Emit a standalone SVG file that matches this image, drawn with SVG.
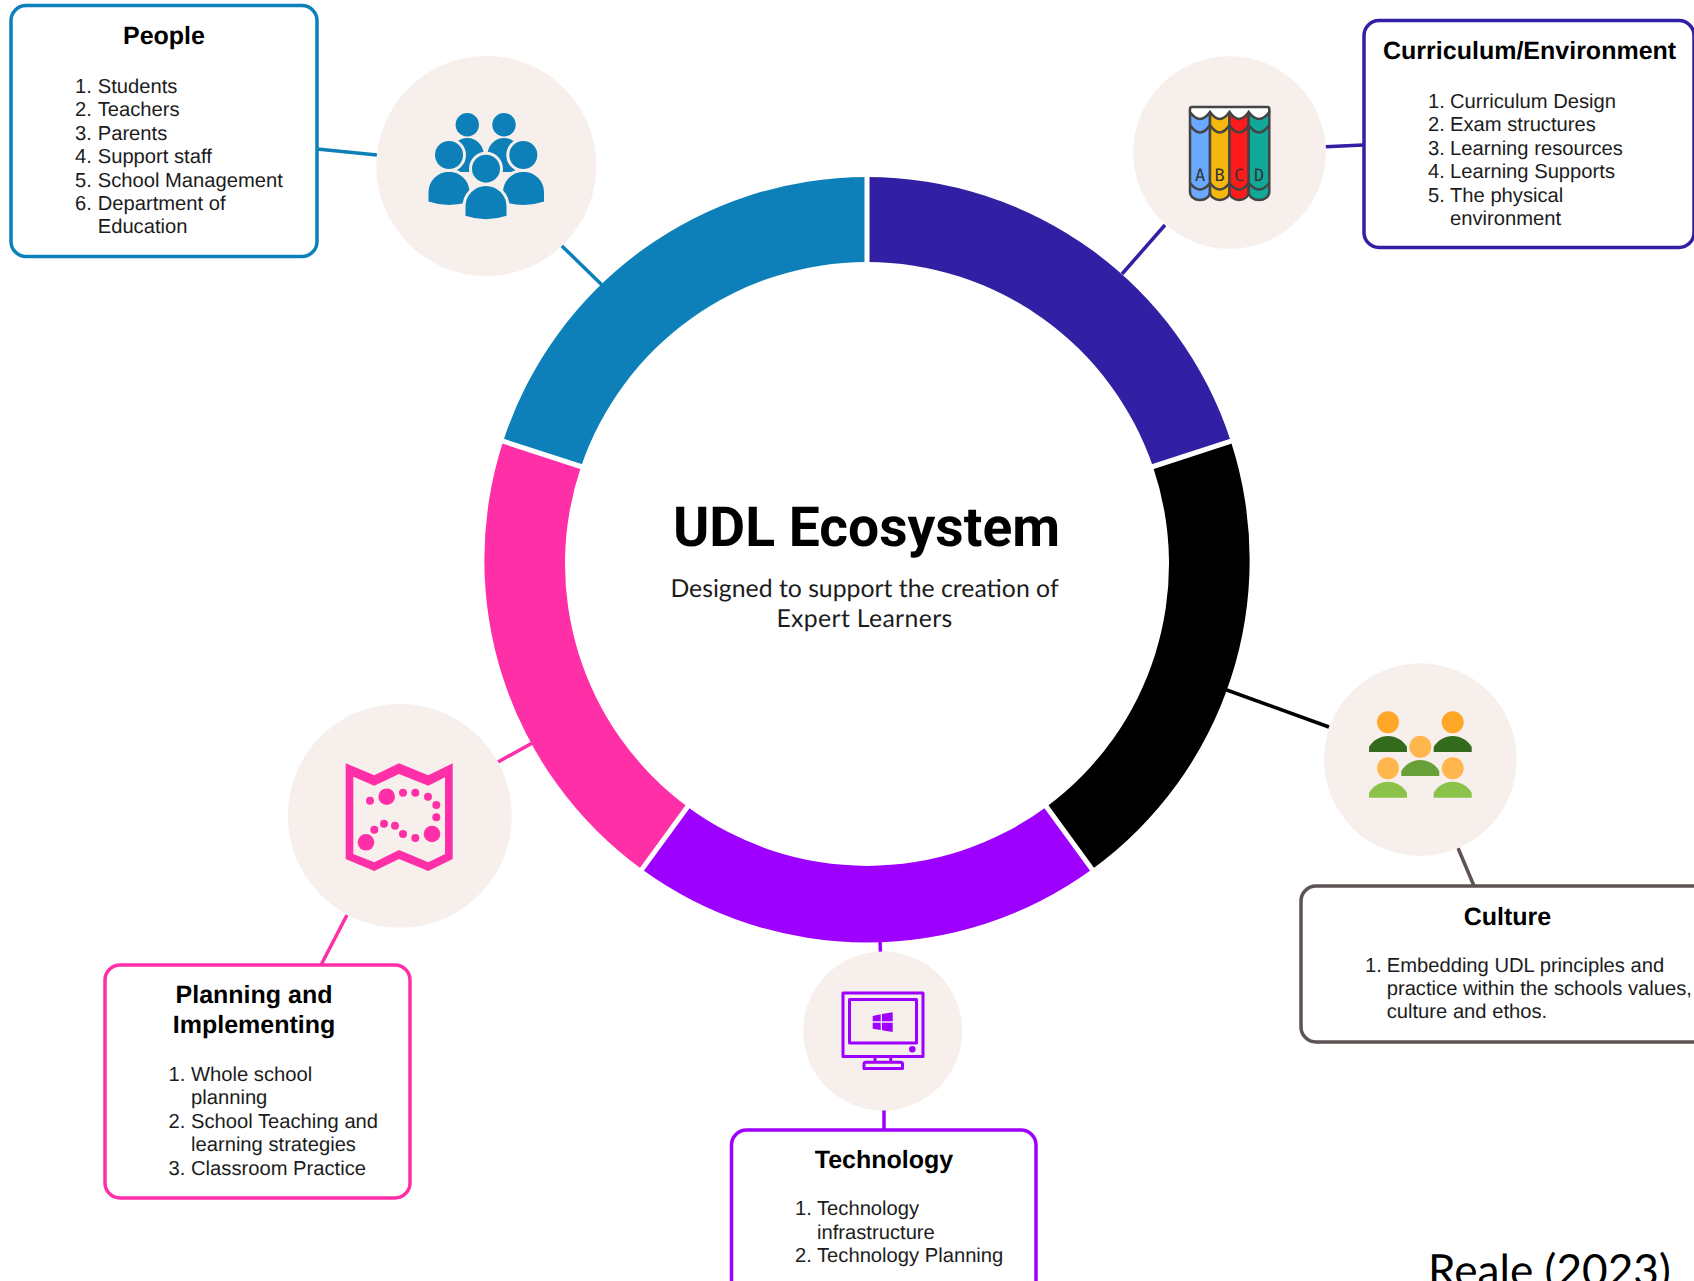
<svg xmlns="http://www.w3.org/2000/svg" width="1694" height="1281" viewBox="0 0 1694 1281">
<style>
text{font-family:"Liberation Sans",Arial,sans-serif;fill:#1c1c1c;text-rendering:geometricPrecision}
.t{font-size:25px;font-weight:700;text-anchor:middle;fill:#000}
.l{font-size:20.2px}
.box{fill:#fff;stroke-width:3.5}
.bg{fill:#F6EFEB}
.c{fill:none;stroke-width:3.5}
.blue{stroke:#0E80B9}.ind{stroke:#3120A3}.blk{stroke:#000}.brn{stroke:#5C5352}.vio{stroke:#9D00FF}.pnk{stroke:#FF2FA8}
.sep{stroke:#fff;stroke-width:5}
.bk{stroke:#444;stroke-width:2.5}
.cap{fill:#fff;stroke:#444;stroke-width:2.5}
.ltr{font-family:"DejaVu Sans Mono",monospace;font-size:17px;fill:#333;text-anchor:middle}
</style>
<defs>
<path id="dome" d="M-19 16V11A22 22 0 0 1 19 11V16Z"/>
<path id="body" d="M-22 22A22 22 0 0 1 22 22V32.5Q0 40 -22 32.5Z"/>
<path id="back" d="M-16.5 34V17A16.5 17 0 0 1 16.5 17V34Z"/>
</defs>

<g id="connectors">
<path class="c blue" d="M317 149L377 155M561.7 245.7L603 286"/>
<path class="c ind" d="M1363 145L1325.7 146.7M1165 225L1122 274"/>
<path class="c blk" d="M1224 689L1329 727"/>
<path class="c brn" d="M1458 848L1474 886"/>
<path class="c vio" d="M880 940L880.5 953M884 1110L884 1130"/>
<path class="c pnk" d="M498 762L536 741M347 915L321 965"/>
</g>

<g id="ring">
<path fill="#0E80B9" d="M503.2 441.3A382.5 382.5 0 0 1 867 177L867 262A302 302 0 0 0 581.1 466.6Z"/>
<path fill="#3120A3" d="M867 177A382.5 382.5 0 0 1 1230.8 441.3L1152.9 466.6A302 302 0 0 0 867 262Z"/>
<path fill="#000" d="M1230.8 441.3A382.5 382.5 0 0 1 1092.1 869.3L1046.6 806.7A302 302 0 0 0 1152.9 466.6Z"/>
<path fill="#9D00FF" d="M1092.1 869.3A382.5 382.5 0 0 1 641.9 869.3L687.4 806.7A302 302 0 0 0 1046.6 806.7Z"/>
<path fill="#FF2FA8" d="M641.9 869.3A382.5 382.5 0 0 1 503.2 441.3L581.1 466.6A302 302 0 0 0 687.4 806.7Z"/>
<path class="sep" d="M867 170V268M1238 438.9L1147 468.5M1096.5 875.4L1043 802M637.5 875.4L691 802M496 438.9L587 468.5"/>
</g>

<g id="center">
<text x="866.5" y="546" text-anchor="middle" style="font-family:Roboto,sans-serif;font-size:55.2px;font-weight:700;fill:#000">UDL Ecosystem</text>
<text x="864.5" y="597" text-anchor="middle" style="font-family:Lato,sans-serif;font-size:24.8px">Designed to support the creation of</text>
<text x="864.5" y="627" text-anchor="middle" style="font-family:Lato,sans-serif;font-size:24.8px;letter-spacing:.35px">Expert Learners</text>
</g>

<g id="people">
<rect class="box blue" x="11" y="5.5" width="306" height="251" rx="15"/>
<text class="t" x="164" y="44">People</text>
<text class="l" x="75" y="92.7">1.<tspan x="97.7">Students</tspan></text>
<text class="l" x="75" y="116">2.<tspan x="97.7">Teachers</tspan></text>
<text class="l" x="75" y="139.6">3.<tspan x="97.7">Parents</tspan></text>
<text class="l" x="75" y="163">4.<tspan x="97.7">Support staff</tspan></text>
<text class="l" x="75" y="186.5">5.<tspan x="97.7">School Management</tspan></text>
<text class="l" x="75" y="210">6.<tspan x="97.7">Department of</tspan></text>
<text class="l" x="97.7" y="233.4">Education</text>
<circle class="bg" cx="486.3" cy="166" r="110"/>
<g fill="#0E80B9" stroke="#F6EFEB" stroke-width="0">
<use href="#back" x="467.3" y="138"/><use href="#back" x="504" y="138"/>
<circle cx="467.3" cy="124.7" r="11.7"/><circle cx="504" cy="124.7" r="11.7"/>
<g stroke-width="3">
<use href="#body" x="449" y="170.2"/><use href="#body" x="523.5" y="170.2"/>
<circle cx="449" cy="155" r="15.5"/><circle cx="523.3" cy="155" r="15.5"/>
</g>
<g stroke-width="3">
<use href="#body" x="486" y="184.5"/>
<circle cx="486" cy="168.7" r="15.5"/>
</g>
</g>
</g>

<g id="curriculum">
<rect class="box ind" x="1364" y="20.5" width="330" height="227" rx="15"/>
<text class="t" x="1529.6" y="59">Curriculum/Environment</text>
<text class="l" x="1428" y="107.7">1.<tspan x="1450">Curriculum Design</tspan></text>
<text class="l" x="1428" y="131.2">2.<tspan x="1450">Exam structures</tspan></text>
<text class="l" x="1428" y="154.8">3.<tspan x="1450">Learning resources</tspan></text>
<text class="l" x="1428" y="178.2">4.<tspan x="1450">Learning Supports</tspan></text>
<text class="l" x="1428" y="201.7">5.<tspan x="1450">The physical</tspan></text>
<text class="l" x="1450" y="225">environment</text>
<circle class="bg" cx="1229.5" cy="152.5" r="96.3"/>
<g class="bk">
<path fill="#6BA8FF" d="M1190 112H1210V192A10 8 0 0 1 1190 192Z"/>
<path fill="#F6B80E" d="M1210 112H1229.5V192A9.75 8 0 0 1 1210 192Z"/>
<path fill="#FF1B1B" d="M1229.5 112H1248.7V192A9.6 8 0 0 1 1229.5 192Z"/>
<path fill="#11A89A" d="M1248.7 112H1269.3V192A10.3 8 0 0 1 1248.7 192Z"/>
<path fill="none" d="M1190 125Q1200 140 1210 125Q1219.7 140 1229.5 125Q1239 140 1248.7 125Q1259 140 1269.3 125M1190 183Q1200 196 1210 183Q1219.7 196 1229.5 183Q1239 196 1248.7 183Q1259 196 1269.3 183"/>
<path class="cap" d="M1192 107H1267.3Q1269.3 107 1269.3 109V112Q1259 126 1248.7 112Q1239 126 1229.5 112Q1219.7 126 1210 112Q1200 126 1190 112V109Q1190 107 1192 107Z"/>
</g>
<text class="ltr" x="1200" y="181">A</text><text class="ltr" x="1219.7" y="181">B</text><text class="ltr" x="1239" y="181">C</text><text class="ltr" x="1259" y="181">D</text>
</g>

<g id="culture">
<rect class="box brn" x="1301" y="886" width="420" height="156" rx="15"/>
<text class="t" x="1507.5" y="924.5">Culture</text>
<text class="l" x="1365" y="971.7">1.<tspan x="1386.7">Embedding UDL principles and</tspan></text>
<text class="l" x="1386.7" y="995">practice within the schools values,</text>
<text class="l" x="1386.7" y="1018">culture and ethos.</text>
<circle class="bg" cx="1420.3" cy="759.6" r="96.3"/>
<circle cx="1388" cy="722.3" r="11" fill="#FFA726"/><circle cx="1452.7" cy="722.3" r="11" fill="#FFA726"/>
<use href="#dome" x="1388" y="736" fill="#336B1C"/><use href="#dome" x="1452.7" y="736" fill="#336B1C"/>
<circle cx="1420.3" cy="746.7" r="11" fill="#FFB74D"/><use href="#dome" x="1420.3" y="760" fill="#689F38"/>
<circle cx="1388" cy="768.3" r="11" fill="#FFB74D"/><circle cx="1452.7" cy="768.3" r="11" fill="#FFB74D"/>
<use href="#dome" x="1388" y="781.7" fill="#8BC34A"/><use href="#dome" x="1452.7" y="781.7" fill="#8BC34A"/>
</g>

<g id="technology">
<rect class="box vio" x="731.5" y="1130" width="304.5" height="170" rx="15"/>
<text class="t" x="884" y="1168">Technology</text>
<text class="l" x="795" y="1215">1.<tspan x="817">Technology</tspan></text>
<text class="l" x="817" y="1239">infrastructure</text>
<text class="l" x="795" y="1262">2.<tspan x="817">Technology Planning</tspan></text>
<circle class="bg" cx="882.7" cy="1031" r="79.5"/>
<g fill="none" stroke="#9D00FF" stroke-width="3" stroke-linejoin="round">
<rect x="843" y="993" width="80" height="63.5"/><rect x="849.5" y="999.5" width="67" height="43.5"/>
<path d="M875 1056.7V1062M890.7 1056.7V1062M864 1068.5V1064Q864 1062.3 866 1062.3H900Q902.5 1062.3 902.5 1064V1068.5Z"/>
</g>
<circle cx="912.3" cy="1049.3" r="3.3" fill="#9D00FF"/>
<path fill="#9D00FF" d="M872.7 1016L880.7 1014.3V1021.3H872.7ZM882 1014L892.7 1012.3V1021.3H882ZM872.7 1022.7H880.7V1030L872.7 1028.7ZM882 1022.7H892.7V1032L882 1030.3Z"/>
</g>

<g id="planning">
<rect class="box pnk" x="105" y="965" width="305" height="233" rx="15"/>
<text class="t" x="254" y="1002.5">Planning and</text>
<text class="t" x="254" y="1033">Implementing</text>
<text class="l" x="168.5" y="1080.5">1.<tspan x="191">Whole school</tspan></text>
<text class="l" x="191" y="1104">planning</text>
<text class="l" x="168.5" y="1127.6">2.<tspan x="191">School Teaching and</tspan></text>
<text class="l" x="191" y="1151">learning strategies</text>
<text class="l" x="168.5" y="1174.6">3.<tspan x="191">Classroom Practice</tspan></text>
<circle class="bg" cx="399.8" cy="815.8" r="112"/>
<g fill="#FF2FA8">
<path fill-rule="evenodd" d="M345.7 763.3L374.3 775.3L399 763.3L428.3 775.3L452.7 763.3V859L428.3 871L399 859L374.3 871L345.7 859ZM353.3 776.7V854L374.3 862.3L399 850L428.3 862.3L445 854V777.3L428.3 785.7L399 774L374.3 785.7Z"/>
<circle cx="386.7" cy="796.7" r="8.3"/><circle cx="432" cy="834" r="8.3"/><circle cx="366" cy="842.3" r="8.3"/>
<circle cx="370" cy="800.7" r="4"/><circle cx="403" cy="792.7" r="4"/><circle cx="415.3" cy="792.7" r="4"/><circle cx="428" cy="796.7" r="4"/><circle cx="436.3" cy="805" r="4"/><circle cx="436.3" cy="817.3" r="4"/><circle cx="374.3" cy="829.7" r="4"/><circle cx="384" cy="823.7" r="4"/><circle cx="395" cy="825.7" r="4"/><circle cx="403" cy="834" r="4"/><circle cx="415.3" cy="838" r="4"/>
</g>
</g>

<text x="1428" y="1286" style="font-family:Lato,sans-serif;font-size:44.2px;fill:#000">Reale (2023)</text>
</svg>
